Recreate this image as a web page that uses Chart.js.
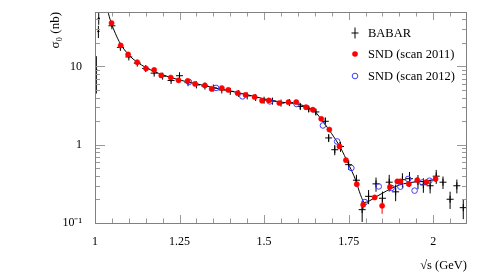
<!DOCTYPE html>
<html><head><meta charset="utf-8">
<script src="https://cdn.jsdelivr.net/npm/chart.js@4.4.0/dist/chart.umd.min.js"></script>
<style>html,body{margin:0;padding:0;background:#fff;} #c{display:block;}</style>
</head><body>
<canvas id="c" width="479" height="277" style="width:479px;height:277px"></canvas>
<script>
// ---- tick labels ----
const xTickValues = [1, 1.25, 1.5, 1.75, 2];
const xTickLabels = ['1', '1.25', '1.5', '1.75', '2'];
const yTickValues = [0.1, 1, 10];
const yTickLabels = ['10⁻¹', '1', '10'];

// ---- BABAR ----
const babarX = [1.004, 1.010, 1.011, 1.05, 1.075, 1.1, 1.125, 1.15, 1.175, 1.2, 1.225, 1.25, 1.275, 1.3, 1.325, 1.35, 1.375, 1.4, 1.425, 1.45, 1.475, 1.5, 1.525, 1.55, 1.575,
  1.607, 1.632, 1.653, 1.681, 1.691, 1.709, 1.726, 1.750, 1.773, 1.790, 1.809, 1.831, 1.850, 1.870, 1.889, 1.909, 1.930, 1.955, 1.971, 1.991, 2.009, 2.029, 2.050, 2.070, 2.089];
const babarY = [9, 28, 41, 33, 17.5, 13.2, 11.0, 9.4, 8.2, 7.5, 6.6, 7.6, 6.2, 5.8, 5.6, 5.3, 5.0, 4.8, 4.5, 4.2, 4.0, 3.7, 3.6, 3.4, 3.45,
  3.08, 2.86, 2.62, 1.99, 1.22, 0.863, 0.95, 0.556, 0.352, 0.148, 0.219, 0.316, 0.207, 0.332, 0.250, 0.357, 0.368, 0.340, 0.308, 0.299, 0.396, 0.332, 0.201, 0.299, 0.157];
const babarErr = [4.5, 5, 7, 1.5, 0.7, 0.5, 0.4, 0.35, 0.3, 0.3, 0.25, 0.3, 0.25, 0.22, 0.2, 0.2, 0.2, 0.18, 0.17, 0.16, 0.15, 0.14, 0.14, 0.13, 0.13,
  0.26, 0.25, 0.23, 0.23, 0.14, 0.13, 0.14, 0.08, 0.06, 0.045, 0.045, 0.065, 0.045, 0.08, 0.06, 0.075, 0.08, 0.07, 0.065, 0.06, 0.08, 0.06, 0.05, 0.06, 0.045];

// ---- SND scan 2011 ----
const snd11X = [1.049, 1.076, 1.098, 1.125, 1.151, 1.175, 1.196, 1.224, 1.247, 1.274, 1.296, 1.325, 1.345, 1.375, 1.394, 1.422, 1.445, 1.472, 1.494, 1.514,
  1.545, 1.572, 1.595, 1.624, 1.644, 1.669, 1.693, 1.723, 1.742, 1.774, 1.793, 1.827, 1.849, 1.872, 1.894, 1.903, 1.928, 1.953, 1.980, 2.007];
const snd11Y = [35.8, 18.5, 14.2, 11.3, 9.4, 9.0, 7.67, 7.21, 6.63, 6.52, 5.98, 5.72, 5.16, 5.30, 5.01, 4.55, 4.33, 4.07, 3.65, 3.68,
  3.41, 3.49, 3.51, 3.01, 2.80, 2.14, 1.56, 0.95, 0.634, 0.313, 0.171, 0.212, 0.166, 0.288, 0.340, 0.340, 0.315, 0.354, 0.334, 0.365];
const snd11Err = [0.9, 0.45, 0.35, 0.28, 0.23, 0.22, 0.19, 0.18, 0.16, 0.16, 0.15, 0.14, 0.13, 0.13, 0.12, 0.11, 0.11, 0.10, 0.09, 0.09,
  0.085, 0.085, 0.085, 0.075, 0.07, 0.06, 0.045, 0.03, 0.025, 0.015, 0.02, 0.015, 0.035, 0.03, 0.025, 0.025, 0.025, 0.025, 0.025, 0.03];

// ---- SND scan 2012 ----
const snd12X = [1.278, 1.358, 1.436, 1.517, 1.596, 1.674, 1.716, 1.758, 1.798, 1.839, 1.877, 1.903, 1.926, 1.945, 1.968, 1.989];
const snd12Y = [6.32, 5.31, 4.14, 3.57, 3.31, 1.76, 1.10, 0.504, 0.185, 0.293, 0.280, 0.291, 0.365, 0.259, 0.330, 0.347];

// ---- fit curve ----
const curveX = [1.036, 1.040, 1.049, 1.06, 1.075, 1.1, 1.125, 1.15, 1.175, 1.2, 1.25, 1.3, 1.35, 1.4, 1.45, 1.5, 1.55, 1.6, 1.625, 1.65, 1.675, 1.7, 1.725, 1.75, 1.77, 1.785, 1.797, 1.81, 1.83, 1.85, 1.875, 1.9, 1.925, 1.95, 1.975, 2.007];
const curveY = [58, 47, 35, 26.5, 19.5, 14, 11.3, 9.7, 8.6, 7.8, 6.7, 6.0, 5.35, 4.85, 4.35, 3.85, 3.5, 3.3, 3.05, 2.65, 1.95, 1.38, 0.93, 0.56, 0.36, 0.23, 0.183, 0.19, 0.215, 0.24, 0.275, 0.305, 0.325, 0.335, 0.34, 0.36];

const legendLabels = ['BABAR', 'SND (scan 2011)', 'SND (scan 2012)'];

const FONT = "'Liberation Serif', 'Times New Roman', serif";
const RED = '#ff0000', BLUE = 'rgb(60,60,255)';

const pts = (xs, ys) => xs.map((v, i) => ({x: v, y: ys[i]}));

const rootPlugin = {
  id: 'rootPlugin',
  beforeDatasetsDraw(chart) {
    const {ctx, scales: {x, y}, chartArea: ca} = chart;
    ctx.save();
    ctx.beginPath(); ctx.rect(ca.left, ca.top, ca.right - ca.left, ca.bottom - ca.top); ctx.clip();
    ctx.lineWidth = 1;
    const bars = (xs, ys, es, color) => {
      ctx.strokeStyle = color; ctx.beginPath();
      xs.forEach((xv, i) => {
        const px = x.getPixelForValue(xv);
        const lo = Math.max(ys[i] - es[i], 1e-4);
        ctx.moveTo(px, y.getPixelForValue(lo));
        ctx.lineTo(px, y.getPixelForValue(ys[i] + es[i]));
      });
      ctx.stroke();
    };
    bars(babarX, babarY, babarErr, '#000');
    bars(snd11X, snd11Y, snd11Err, RED);
    ctx.restore();
  },
  afterDraw(chart) {
    const {ctx, scales: {x, y}, chartArea: ca} = chart;
    ctx.save();
    ctx.lineWidth = 1;
    // ticks
    ctx.strokeStyle = '#999';
    ctx.beginPath();
    x.ticks.forEach(t => {
      const v = t.value;
      const major = xTickValues.some(m => Math.abs(m - v) < 1e-6);
      const len = major ? 8 : 4.5;
      const px = Math.round(x.getPixelForValue(v)) + 0.5;
      if (px <= ca.left + 1 || px >= ca.right - 1) return;
      ctx.moveTo(px, ca.bottom); ctx.lineTo(px, ca.bottom - len);
      ctx.moveTo(px, ca.top); ctx.lineTo(px, ca.top + len);
    });
    y.ticks.forEach(t => {
      const v = t.value;
      const m = v / Math.pow(10, Math.floor(Math.log10(v) + 1e-9));
      if (Math.abs(m - Math.round(m)) > 1e-6) return;
      const major = yTickValues.some(q => Math.abs(q - v) / q < 1e-6);
      const len = major ? 10 : 5;
      const py = Math.round(y.getPixelForValue(v)) + 0.5;
      if (py <= ca.top + 1 || py >= ca.bottom - 1) return;
      ctx.moveTo(ca.left, py); ctx.lineTo(ca.left + len, py);
      ctx.moveTo(ca.right, py); ctx.lineTo(ca.right - len, py);
    });
    ctx.stroke();
    // frame
    ctx.strokeStyle = '#808080';
    ctx.strokeRect(ca.left + 0.5, ca.top + 0.5, ca.right - ca.left - 1, ca.bottom - ca.top);
    // legend
    const lx = ca.right - 112, tx = ca.right - 99;
    const rows = [ca.top + 21, ca.top + 42, ca.top + 64];
    ctx.strokeStyle = '#000';
    ctx.beginPath();
    ctx.moveTo(lx, rows[0] - 5.5); ctx.lineTo(lx, rows[0] + 5.5);
    ctx.moveTo(lx - 3.5, rows[0]); ctx.lineTo(lx + 3.5, rows[0]);
    ctx.stroke();
    ctx.fillStyle = RED;
    ctx.beginPath(); ctx.arc(lx, rows[1], 2.8, 0, Math.PI * 2); ctx.fill();
    ctx.strokeStyle = BLUE;
    ctx.beginPath(); ctx.arc(lx, rows[2], 2.8, 0, Math.PI * 2); ctx.stroke();
    ctx.fillStyle = '#000';
    ctx.font = '12.5px ' + FONT;
    ctx.textAlign = 'left'; ctx.textBaseline = 'middle';
    legendLabels.forEach((s, i) => ctx.fillText(s, tx, rows[i] + 0.5));
    ctx.restore();
  }
};

new Chart(document.getElementById('c'), {
  type: 'scatter',
  data: {
    datasets: [
      {label: legendLabels[1], data: pts(snd11X, snd11Y), order: 1, pointStyle: 'circle', pointRadius: 2.6, pointBackgroundColor: RED, pointBorderColor: RED, pointBorderWidth: 0.5, showLine: false},
      {label: legendLabels[2], data: pts(snd12X, snd12Y), order: 2, pointStyle: 'circle', pointRadius: 2.8, pointBackgroundColor: 'rgba(0,0,0,0)', pointBorderColor: BLUE, pointBorderWidth: 1, showLine: false},
      {label: 'fit', data: pts(curveX, curveY), order: 3, showLine: true, pointRadius: 0, borderColor: '#000', borderWidth: 1, cubicInterpolationMode: 'monotone', fill: false},
      {label: legendLabels[0], data: pts(babarX, babarY), order: 4, pointStyle: 'cross',
        pointRadius: c => (babarX[c.dataIndex] < 1.02 ? 1.2 : 3.5), pointBorderColor: '#000', pointBorderWidth: 1, showLine: false}
    ]
  },
  options: {
    responsive: false,
    animation: false,
    devicePixelRatio: 1,
    layout: {padding: {top: 12, right: 12, left: 0, bottom: 0}},
    plugins: {legend: {display: false}, tooltip: {enabled: false}},
    events: [],
    scales: {
      x: {
        type: 'linear', min: 1, max: 2.1,
        afterFit(s) { s.height = 54; s.paddingLeft = 0; s.paddingRight = 0; s.paddingTop = 0; s.paddingBottom = 0; },
        grid: {display: false, drawTicks: false},
        border: {display: false},
        ticks: {
          stepSize: 0.05, autoSkip: false, maxRotation: 0, padding: 12,
          color: '#000', font: {family: FONT, size: 12},
          callback(v) { const i = xTickValues.findIndex(m => Math.abs(m - v) < 1e-6); return i >= 0 ? xTickLabels[i] : ''; }
        },
        title: {display: true, text: '√s (GeV)', align: 'end', color: '#000', font: {family: FONT, size: 12.5}, padding: {top: 0, bottom: 3.5}}
      },
      y: {
        type: 'logarithmic', min: 0.1, max: 49.5,
        afterFit(s) { s.width = 95; s.paddingTop = 0; s.paddingBottom = 0; s.paddingLeft = 0; s.paddingRight = 0; },
        grid: {display: false, drawTicks: false},
        border: {display: false},
        ticks: {
          autoSkip: false, padding: 13,
          color: '#000', font: {family: FONT, size: 12},
          callback(v) { const i = yTickValues.findIndex(m => Math.abs(m - v) / m < 1e-6); return i >= 0 ? yTickLabels[i] : ''; }
        },
        title: {display: true, text: 'σ₀ (nb)', align: 'end', color: '#000', font: {family: FONT, size: 13}, padding: {top: 48, bottom: 0}}
      }
    }
  },
  plugins: [rootPlugin]
});
</script>
</body></html>
